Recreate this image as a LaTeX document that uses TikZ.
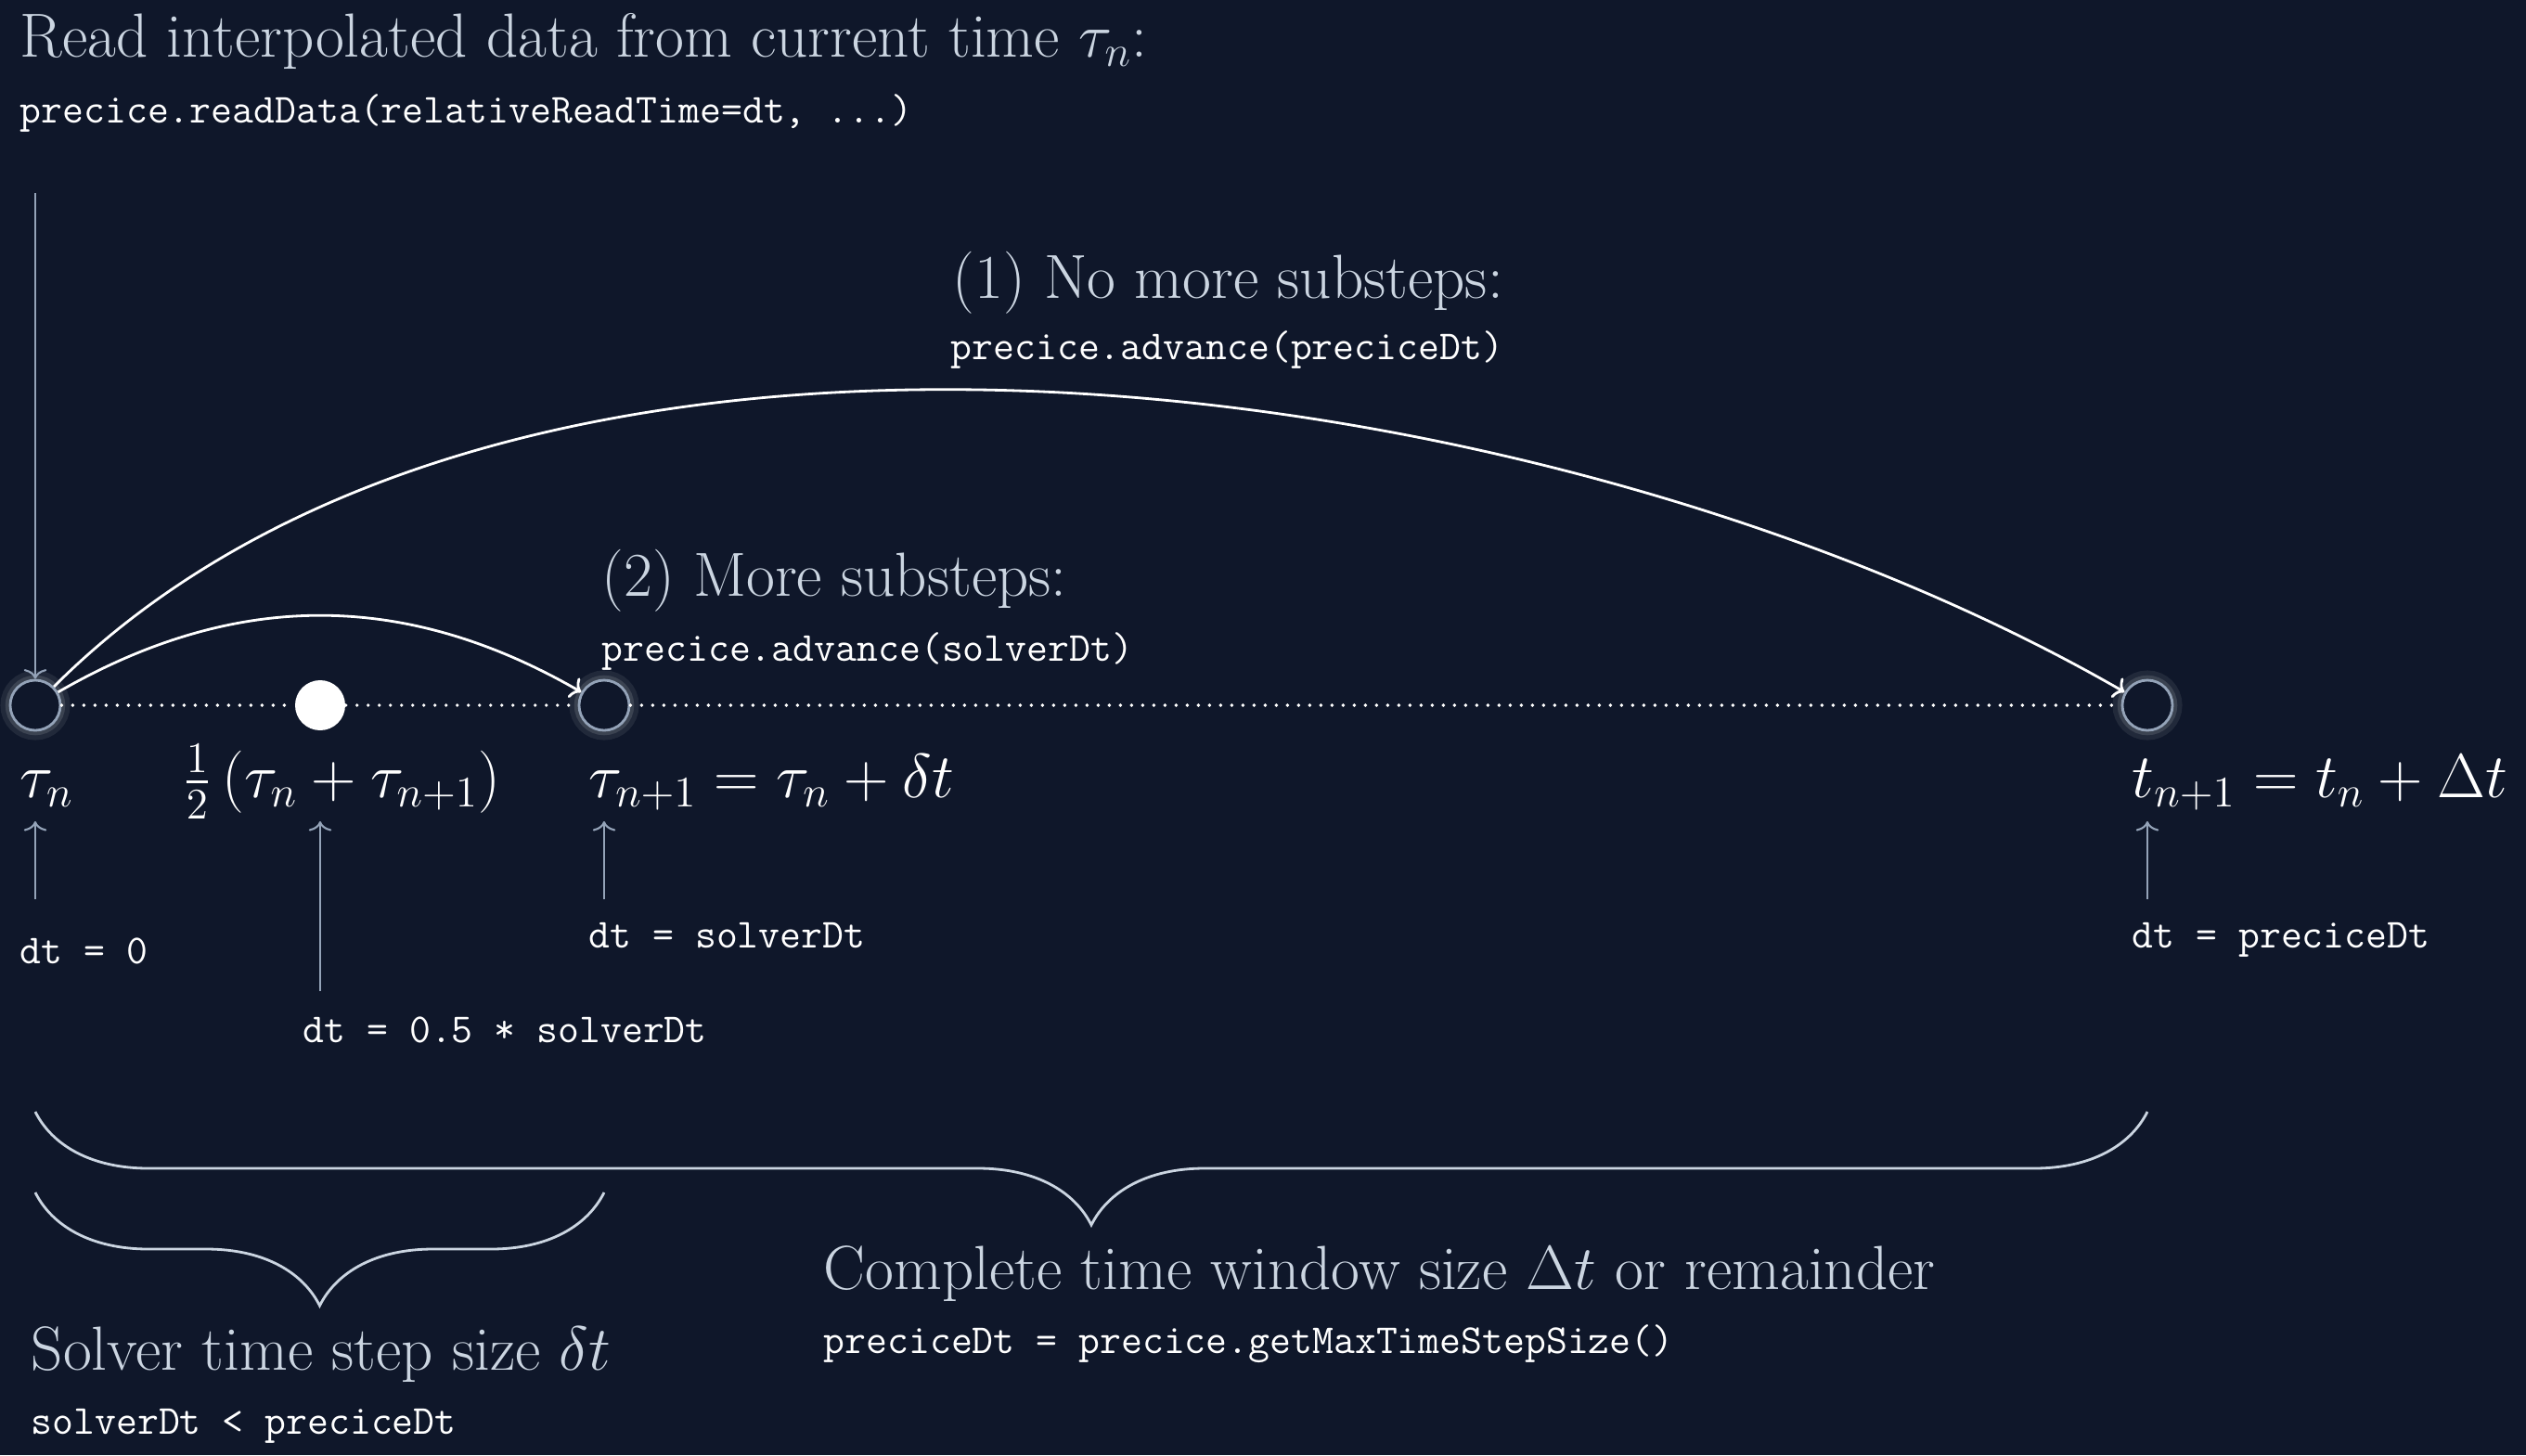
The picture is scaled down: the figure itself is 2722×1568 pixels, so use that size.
\documentclass[tikz,border=0pt]{standalone}
\usepackage{fix-cm}
\usepackage{amsmath}
\usepackage{tikz}
\usetikzlibrary{calc, arrows.meta, decorations.pathreplacing}
\definecolor{night}{HTML}{0F172A}
\definecolor{mist}{HTML}{CBD5E1}
\definecolor{steel}{HTML}{94A3B8}
\tikzstyle{instant} = [circle, minimum size=5.4mm, inner sep=0pt, draw=steel, line width=0.8pt, fill=night, preaction={draw=white, draw opacity=0.08, line width=6pt}, preaction={draw=white, draw opacity=0.12, line width=3pt}]
\tikzstyle{probe} = [circle, minimum size=5.4mm, inner sep=0pt, fill=white]
\tikzstyle{caption} = [anchor=base west, inner sep=0pt, text=mist, font=\fontsize{19.1}{22}\selectfont]
\tikzstyle{formula} = [anchor=base west, inner sep=0pt, text=white, font=\fontsize{19.1}{22}\selectfont]
\tikzstyle{snippet} = [anchor=base west, inner sep=0pt, text=white, font=\fontsize{12.65}{14}\selectfont\ttfamily]
\tikzstyle{trail} = [white, line width=1.1pt, line cap=round, dash pattern=on 0pt off 1.2mm]
\tikzstyle{pointer} = [steel, line width=0.6pt, -{To[length=3pt,width=7pt]}]
\tikzstyle{hop} = [white, line width=0.8pt, -{To[length=3pt,width=7pt]}]
\tikzstyle{bracket} = [mist, line width=0.8pt, decorate, decoration={brace, mirror, amplitude=12.2mm}]

\begin{document}
\begin{tikzpicture}[x=0.1mm, y=-0.1mm]
    \fill[night] (0,0) rectangle (2722,1568);
    \useasboundingbox (0,0) rectangle (2722,1568);
    \node (t0) [instant] at (38,760) {};
    \node (m0) [probe] at (345,760) {};
    \node (t1) [instant] at (651,760) {};
    \node (T1) [instant] at (2314,760) {};
    \draw[trail] (t0) -- (m0);
    \draw[trail] (m0) -- (t1);
    \draw[trail] (t1) -- (T1);
    \node (read) [caption] at (21,61) {Read interpolated data from current time $\tau_n$:};
    \node (readcode) [snippet] at (21,132) {precice.readData(relativeReadTime=dt, ...)};
    \node (full) [caption] at (1026,321) {(1) No more substeps:};
    \node (fullcode) [snippet] at (1024,387) {precice.advance(preciceDt)};
    \node (sub) [caption] at (648,642) {(2) More substeps:};
    \node (subcode) [snippet] at (648,712) {precice.advance(solverDt)};
    \node (l0) [formula] at (21,859) {$\tau_n$};
    \node (lm) [formula] at (196,859) {$\frac{1}{2}\left(\tau_n + \tau_{n+1}\right)$};
    \node (l1) [formula] at (634,859) {$\tau_{n+1} = \tau_n + \delta t$};
    \node (L1) [formula] at (2297,859) {$t_{n+1} = t_n + \Delta t$};
    \node (d0) [snippet] at (21,1038) {dt = 0};
    \node (dm) [snippet] at (326,1123) {dt = 0.5 * solverDt};
    \node (d1) [snippet] at (634,1021) {dt = solverDt};
    \node (D1) [snippet] at (2297,1021) {dt = preciceDt};
    \node (win) [caption] at (887,1389) {Complete time window size $\Delta t$ or remainder};
    \node (wincode) [snippet] at (887,1458) {preciceDt = precice.getMaxTimeStepSize()};
    \node (step) [caption] at (33,1476) {Solver time step size $\delta t$};
    \node (stepcode) [snippet] at (33,1545) {solverDt < preciceDt};
    \coordinate (r0) at (38,208);
    \coordinate (u0) at (38,969);
    \coordinate (um) at (345,1068);
    \coordinate (u1) at (651,969);
    \coordinate (U1) at (2314,969);
    \draw[pointer] (r0) -- (t0);
    \draw[pointer] (u0) -- (38,885);
    \draw[pointer] (um) -- (345,885);
    \draw[pointer] (u1) -- (651,885);
    \draw[pointer] (U1) -- (2314,885);
    \draw[hop] (t0) to[out=45, in=150, looseness=0.81] (T1);
    \draw[hop] (t0) to[bend left=30] (t1);
    \draw[bracket] (38,1198) -- (2314,1198);
    \draw[bracket] (38,1285) -- (651,1285);
\end{tikzpicture}
\end{document}
